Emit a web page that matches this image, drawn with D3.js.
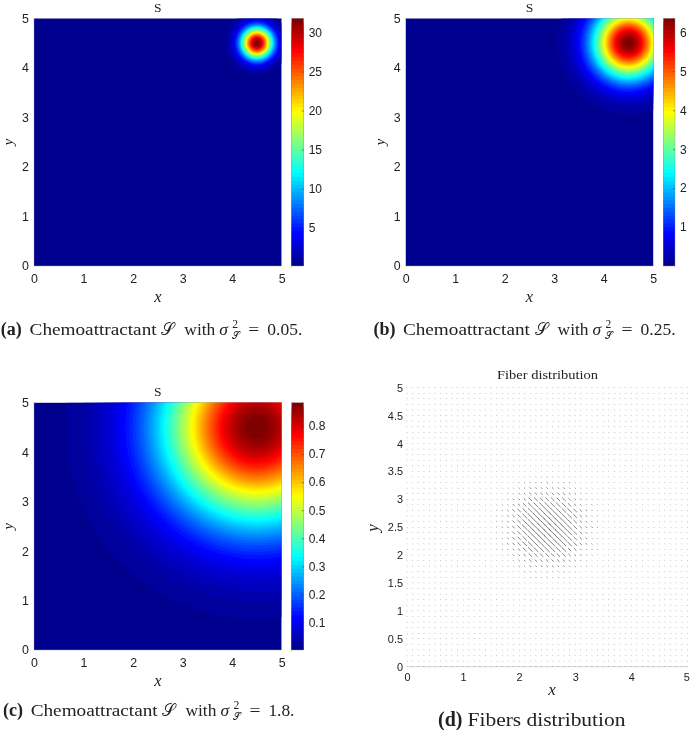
<!DOCTYPE html>
<html>
<head>
<meta charset="utf-8">
<script src="https://cdn.jsdelivr.net/npm/d3@7"></script>
<style>
html,body{margin:0;padding:0;background:#fff;}
svg{display:block;filter:blur(0.35px);}
text{fill:#222;}
.tick text{font-family:"Liberation Sans",sans-serif;}
.cm{font-family:"Liberation Serif",serif;}
.mi{font-family:"Liberation Serif",serif;font-style:italic;}
.sc{font-family:"DejaVu Sans","Noto Sans",serif;}
</style>
</head>
<body>
<svg id="fig" width="690" height="730"></svg>
<script>
// Centre of the chemoattractant peak, in data units
const peakCentre = [4.5, 4.5];
// Colour-bar ranges
const rangeA = [0.03, 31.85];
const rangeB = [0.0, 6.36];
const rangeC = [0.002, 0.883];
// Colour-bar tick labels
const ticksA = [5, 10, 15, 20, 25, 30];
const ticksB = [1, 2, 3, 4, 5, 6];
const ticksC = [0.1, 0.2, 0.3, 0.4, 0.5, 0.6, 0.7, 0.8];
const axisTicks = [0, 1, 2, 3, 4, 5];
const fiberYTicks = [0, 0.5, 1, 1.5, 2, 2.5, 3, 3.5, 4, 4.5, 5];
// Outer radius (data units) of each colour band of the 64-step jet map, read outward-to-inward
const bandRadiiA = [.645,.589,.553,.526,.505,.487,.471,.456,.443,.431,.420,.409,.399,.390,.381,.372,.364,.356,.348,.341,.334,.327,.320,.313,.307,.300,.294,.287,.281,.275,.269,.263,.257,.251,.246,.240,.234,.228,.223,.217,.211,.205,.200,.194,.188,.182,.176,.169,.163,.157,.151,.144,.138,.130,.123,.115,.108,.099,.090,.080,.069,.056,.040];
const bandRadiiB = [1.442,1.317,1.237,1.177,1.129,1.088,1.052,1.020,.991,.963,.938,.915,.892,.872,.852,.832,.814,.796,.779,.762,.747,.730,.716,.700,.686,.671,.657,.643,.629,.615,.602,.589,.576,.562,.549,.537,.523,.511,.498,.485,.472,.459,.446,.433,.419,.407,.393,.379,.366,.351,.337,.322,.308,.291,.276,.258,.241,.222,.202,.180,.155,.126,.088];
const bandRadiiC = [3.868,3.532,3.318,3.159,3.030,2.920,2.823,2.735,2.658,2.584,2.517,2.455,2.394,2.339,2.286,2.233,2.183,2.136,2.090,2.045,2.003,1.960,1.920,1.878,1.840,1.800,1.762,1.724,1.688,1.650,1.614,1.580,1.544,1.508,1.474,1.440,1.404,1.370,1.335,1.301,1.265,1.231,1.197,1.161,1.125,1.091,1.055,1.017,.981,.943,.903,.865,.825,.782,.740,.692,.647,.596,.541,.482,.415,.338,.237];
// Fibre panel: grid coordinates, centre, and glyph half-length by distance from the centre
const fiberGrid = [0,.1,.2,.3,.4,.5,.6,.7,.8,.9,1,1.1,1.2,1.3,1.4,1.5,1.6,1.7,1.8,1.9,2,2.1,2.2,2.3,2.4,2.5,2.6,2.7,2.8,2.9,3,3.1,3.2,3.3,3.4,3.5,3.6,3.7,3.8,3.9,4,4.1,4.2,4.3,4.4,4.5,4.6,4.7,4.8,4.9,5];
const fiberCentre = [2.5, 2.5];
const fiberDistances = [.2,.3,.4,.5,.6,.7,.8,.9,1.0];
const fiberHalfLengths = [.062,.056,.048,.04,.03,.02,.013,.008,.006,.004];
const fiberAngle = [1, -1];
// Jet colour map key points
const jetStops = [0, .125, .375, .625, .875, 1];
const jetColors = ["#00008f", "#0000ff", "#00ffff", "#ffff00", "#ff0000", "#800000"];

const svg = d3.select("#fig");
const jet = d3.scaleLinear().domain(jetStops).range(jetColors).interpolate(d3.interpolateRgb);
const LEVELS = bandRadiiA.length + 1;

function heatPanel(id, box, bar, radii, range, cbTicks, cbFormat) {
  const x = d3.scaleLinear().domain([0, 5]).range([box.x0, box.x1]);
  const y = d3.scaleLinear().domain([0, 5]).range([box.y1, box.y0]);
  const g = svg.append("g");
  svg.append("clipPath").attr("id", id).append("rect")
    .attr("x", box.x0).attr("y", box.y0).attr("width", box.x1 - box.x0).attr("height", box.y1 - box.y0);
  const plot = g.append("g").attr("clip-path", `url(#${id})`);
  plot.append("rect").attr("x", box.x0).attr("y", box.y0).attr("width", box.x1 - box.x0).attr("height", box.y1 - box.y0).attr("fill", jet(0));
  plot.selectAll("circle").data(radii).join("circle")
    .attr("cx", x(peakCentre[0])).attr("cy", y(peakCentre[1]))
    .attr("r", d => x(d) - x(0))
    .attr("fill", (d, i) => jet((i + 1) / (LEVELS - 1)));
  g.append("rect").attr("x", box.x0).attr("y", box.y0).attr("width", box.x1 - box.x0).attr("height", box.y1 - box.y0)
    .attr("fill", "none").attr("stroke", "#9a9ab8").attr("stroke-width", 0.4);

  const ax = d3.axisBottom(x).tickValues(axisTicks).tickFormat(d3.format("d")).tickSize(0).tickPadding(8);
  const ay = d3.axisLeft(y).tickValues(axisTicks).tickFormat(d3.format("d")).tickSize(0).tickPadding(5);
  const gx = g.append("g").attr("transform", `translate(0,${box.y1})`).call(ax);
  const gy = g.append("g").attr("transform", `translate(${box.x0},0)`).call(ay);
  [gx, gy].forEach(s => { s.select(".domain").remove(); s.selectAll("text").attr("font-size", 12.4).attr("fill", "#262626"); });

  g.append("text").attr("class", "cm").attr("x", (box.x0 + box.x1) / 2).attr("y", box.y0 - 6.3)
    .attr("text-anchor", "middle").attr("font-size", 13.5).text("S");
  g.append("text").attr("class", "mi").attr("x", (box.x0 + box.x1) / 2).attr("y", box.y1 + 36)
    .attr("text-anchor", "middle").attr("font-size", 16.5).text("x");
  g.append("text").attr("class", "mi").attr("transform", `translate(${box.x0 - 21},${(box.y0 + box.y1) / 2}) rotate(-90)`)
    .attr("text-anchor", "middle").attr("font-size", 14.5).text("y");

  // colour bar: painted top band first, each reaching down to the bar's foot, so no seams show
  const cb = d3.scaleLinear().domain(range).range([box.y1, box.y0]);
  const bandH = (box.y1 - box.y0) / LEVELS;
  const levels = d3.range(LEVELS).reverse();
  g.selectAll(".cell").data(levels).join("rect").attr("class", "cell")
    .attr("x", bar.x0).attr("width", bar.x1 - bar.x0)
    .attr("y", d => box.y1 - (d + 1) * bandH).attr("height", d => (d + 1) * bandH)
    .attr("fill", d => jet(d / (LEVELS - 1)));
  g.append("rect").attr("x", bar.x0).attr("y", box.y0).attr("width", bar.x1 - bar.x0).attr("height", box.y1 - box.y0)
    .attr("fill", "none").attr("stroke", "#8c8c8c").attr("stroke-width", 0.4);
  const cbAxis = d3.axisRight(cb).tickValues(cbTicks).tickSize(-2).tickPadding(5).tickFormat(cbFormat);
  const gc = g.append("g").attr("transform", `translate(${bar.x1},0)`).call(cbAxis);
  gc.select(".domain").remove();
  gc.selectAll("line").attr("stroke", "#333").attr("stroke-width", 0.5);
  gc.selectAll("text").attr("font-size", 12).attr("fill", "#262626");
}

heatPanel("clipA", {x0: 34, x1: 281.7, y0: 18.3, y1: 266}, {x0: 291.7, x1: 303.7}, bandRadiiA, rangeA, ticksA, d3.format("d"));
heatPanel("clipB", {x0: 405.7, x1: 653.3, y0: 18.3, y1: 266}, {x0: 663.3, x1: 675}, bandRadiiB, rangeB, ticksB, d3.format("d"));
heatPanel("clipC", {x0: 34, x1: 281.7, y0: 402.7, y1: 650}, {x0: 291.7, x1: 303.7}, bandRadiiC, rangeC, ticksC, d3.format(".1f"));

// Fibre panel
(function () {
  const x = d3.scaleLinear().domain([0, 5]).range([407, 687.3]);
  const y = d3.scaleLinear().domain([0, 5]).range([666.7, 387.7]);
  const hl = d3.scaleThreshold().domain(fiberDistances).range(fiberHalfLengths);
  const pts = fiberGrid.flatMap(a => fiberGrid.map(b => ({a, b})));
  const g = svg.append("g");
  g.append("line").attr("x1", x(0)).attr("x2", x(5)).attr("y1", y(0)).attr("y2", y(0)).attr("stroke", "#d4d4d4").attr("stroke-width", 1);
  g.selectAll(".fiber").data(pts).join("line").attr("class", "fiber")
    .attr("stroke", "#555").attr("stroke-width", 0.75)
    .each(function (d) {
      const r = Math.hypot(d.a - fiberCentre[0], d.b - fiberCentre[1]);
      const h = hl(r);
      d3.select(this)
        .attr("x1", x(d.a - h * fiberAngle[0])).attr("y1", y(d.b - h * fiberAngle[1]))
        .attr("x2", x(d.a + h * fiberAngle[0])).attr("y2", y(d.b + h * fiberAngle[1]));
    });
  const ax = d3.axisBottom(x).tickValues(axisTicks).tickFormat(d3.format("d")).tickSize(0).tickPadding(6.5);
  const ay = d3.axisLeft(y).tickValues(fiberYTicks).tickFormat(d3.format("")).tickSize(0).tickPadding(4);
  const gx = g.append("g").attr("transform", `translate(0,${y(0)})`).call(ax);
  const gy = g.append("g").attr("transform", `translate(${x(0)},0)`).call(ay);
  [gx, gy].forEach(s => { s.select(".domain").remove(); s.selectAll("text").attr("font-size", 10.9).attr("fill", "#333"); });
  gx.selectAll("text").filter(d => d === 5).attr("dx", -1);
  g.append("text").attr("class", "cm").attr("x", 497).attr("y", 379).attr("font-size", 13.5)
    .attr("textLength", 101).attr("lengthAdjust", "spacingAndGlyphs").text("Fiber distribution");
  g.append("text").attr("class", "mi").attr("x", 552).attr("y", 695).attr("text-anchor", "middle").attr("font-size", 17).text("x");
  g.append("text").attr("class", "mi").attr("transform", "translate(378,528) rotate(-90)").attr("text-anchor", "middle").attr("font-size", 17).text("y");
})();

// Captions
function caption(dx, y, labelX, label, value, valueWidth) {
  const g = svg.append("g").attr("transform", `translate(${dx},${y})`);
  g.append("text").attr("class", "cm").attr("x", labelX).attr("font-weight", "bold").attr("font-size", 18).text(label);
  g.append("text").attr("class", "cm").attr("x", 29.3).attr("font-size", 16.5).attr("textLength", 127).attr("lengthAdjust", "spacingAndGlyphs").text("Chemoattractant");
  g.append("text").attr("class", "sc").attr("x", 161).attr("font-size", 16.5).text("𝒮");
  g.append("text").attr("class", "cm").attr("x", 184).attr("font-size", 16.5).attr("textLength", 31).attr("lengthAdjust", "spacingAndGlyphs").text("with");
  g.append("text").attr("class", "mi").attr("x", 219).attr("font-size", 17.5).text("σ");
  g.append("text").attr("class", "cm").attr("x", 232).attr("y", -6.5).attr("font-size", 11.5).text("2");
  g.append("text").attr("class", "sc").attr("x", 231.5).attr("y", 4).attr("font-size", 10).text("𝒮");
  g.append("text").attr("class", "cm").attr("x", 248).attr("font-size", 17).attr("textLength", 11).attr("lengthAdjust", "spacingAndGlyphs").text("=");
  g.append("text").attr("class", "cm").attr("x", 267).attr("font-size", 16.5).attr("textLength", valueWidth).attr("lengthAdjust", "spacingAndGlyphs").text(value);
}
caption(0.3, 334.7, 0.5, "(a)", "0.05.", 35);
caption(373.6, 334.7, 0, "(b)", "0.25.", 35);
caption(1.4, 715.5, 1.5, "(c)", "1.8.", 26);
const dCap = svg.append("g").attr("transform", "translate(438,725.5)");
dCap.append("text").attr("class", "cm").attr("font-weight", "bold").attr("font-size", 20).text("(d)");
dCap.append("text").attr("class", "cm").attr("x", 29.5).attr("font-size", 19).attr("textLength", 158).attr("lengthAdjust", "spacingAndGlyphs").text("Fibers distribution");
</script>
</body>
</html>
